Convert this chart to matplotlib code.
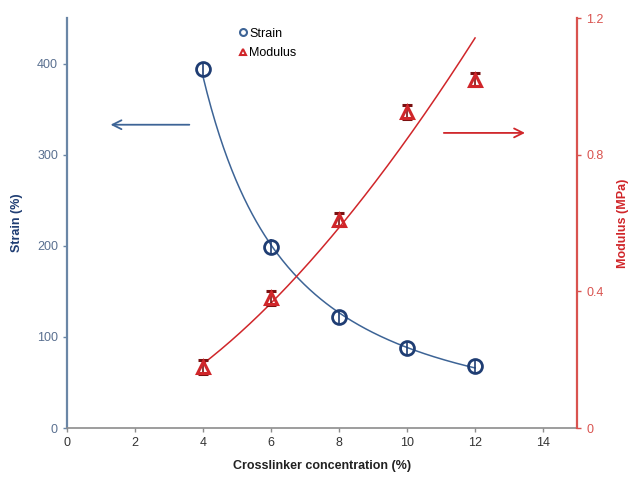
import numpy as np
import matplotlib
matplotlib.use("Agg")
import matplotlib.pyplot as plt

plt.rcParams['font.family'] = ['Liberation Sans', 'DejaVu Sans']

# Crosslinker concentration (%)
conc = [4, 6, 8, 10, 12]
# Elongation at break (%)
strain = [394, 199, 122, 88, 68]
strain_err = [8, 8, 8, 8, 8]
# Young's modulus (MPa)
modulus = [0.178, 0.38, 0.61, 0.925, 1.02]
modulus_err = [0.02, 0.02, 0.02, 0.02, 0.02]

blue = '#1f3d73'
blue_line = '#3d6496'
blue_axis = '#6a86a6'
red = '#d0262a'
red_axis = '#d9534f'

fig = plt.figure(figsize=(6.3, 4.78), dpi=100)
ax = fig.add_axes([0.1063, 0.1046, 0.8097, 0.8574])
ax2 = ax.twinx()

# power-law trend lines through each series
xs = np.linspace(4, 12, 200)
bs, as_ = np.polyfit(np.log(conc), np.log(strain), 1)
ax.plot(xs, np.exp(as_) * xs ** bs, color=blue_line, lw=1.1)
bm, am = np.polyfit(np.log(conc), np.log(modulus), 1)
ax2.plot(xs, np.exp(am) * xs ** bm, color=red, lw=1.1)

ax.errorbar(conc, strain, yerr=strain_err, fmt='o', ms=10, mfc='none',
            mec=blue, mew=2, ecolor=blue, elinewidth=1.2, capsize=0, zorder=5)
ax2.errorbar(conc, modulus, yerr=modulus_err, fmt='^', ms=8, mfc='none',
             mec=red, mew=2.2, ecolor='#7a1010', elinewidth=1.2, capsize=3.5,
             capthick=1.5, zorder=5)

ax.set_xlim(0, 15)
ax.set_ylim(0, 450)
ax2.set_ylim(0, 1.2)
ax.set_xticks([0, 2, 4, 6, 8, 10, 12, 14])
ax.set_yticks([0, 100, 200, 300, 400])
ax2.set_yticks([0, 0.4, 0.8, 1.2])
ax2.set_yticklabels(['0', '0.4', '0.8', '1.2'])

for a in (ax, ax2):
    a.spines['top'].set_visible(False)
ax.spines['right'].set_visible(False)
ax2.spines['left'].set_visible(False)
ax2.spines['bottom'].set_visible(False)
ax.spines['left'].set_color(blue_axis)
ax.spines['left'].set_linewidth(1.6)
ax.spines['bottom'].set_color('#8c8c8c')
ax.spines['bottom'].set_linewidth(1.2)
ax2.spines['right'].set_color(red_axis)
ax2.spines['right'].set_linewidth(1.6)

ax.tick_params(axis='y', colors=blue_axis, labelsize=9, length=3, width=1, labelcolor='#5a7090')
ax.tick_params(axis='x', colors='#8c8c8c', labelsize=9, length=3, width=1, labelcolor='#333333')
ax2.tick_params(axis='y', colors=red_axis, labelsize=9, length=3, width=1, labelcolor=red_axis)

ax.set_xlabel('Crosslinker concentration (%)', fontsize=9, fontweight='bold', color='#222222', labelpad=8)
ax.set_ylabel('Strain (%)', fontsize=9, fontweight='bold', color='#1f3d73', labelpad=10)
ax2.set_ylabel('Modulus (MPa)', fontsize=9, fontweight='bold', color=red, labelpad=10)

# arrows pointing to each series' axis
ax.annotate('', xy=(1.2, 333), xytext=(3.68, 333),
            arrowprops=dict(arrowstyle='->', color=blue_line, lw=1.3, mutation_scale=16))
ax.annotate('', xy=(13.55, 324), xytext=(11.0, 324),
            arrowprops=dict(arrowstyle='->', color=red, lw=1.3, mutation_scale=16))

# legend
h1 = plt.Line2D([], [], ls='none', marker='o', ms=5, mfc='none', mec=blue_line, mew=1.5)
h2 = plt.Line2D([], [], ls='none', marker='^', ms=5, mfc='none', mec=red, mew=1.5)
fig.legend([h1, h2], ['Strain', 'Modulus'], loc='upper left',
           bbox_to_anchor=(0.37, 0.955), frameon=False, fontsize=9,
           handlelength=0.6, handletextpad=0.2, labelspacing=0.6, borderpad=0)

fig.savefig('out.png', dpi=100)
